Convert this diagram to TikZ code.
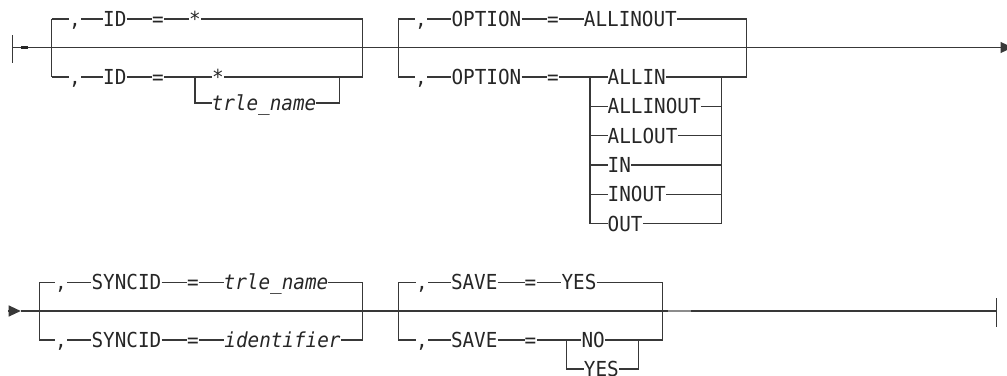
\documentclass[tikz,border=0pt]{standalone}
\usepackage{fontspec}
\newfontfamily\rrfont{DejaVu Sans Mono}
\usetikzlibrary{arrows.meta}
\newcommand{\rt}[1]{\scalebox{1}[1.07]{#1}}
\tikzset{
  rr/.style={draw=black!78, line width=1.2pt},
  tok/.style={inner sep=0pt, text height=17pt, text depth=2pt, anchor=west,
    font=\rrfont\fontsize{19.3pt}{20pt}\selectfont, text=black!85},
  var/.style={tok, font=\rrfont\itshape\fontsize{19.3pt}{20pt}\selectfont},
  smear/.style={draw=black!85, line width=2.6pt},
  smearlight/.style={draw=black!45, line width=2.4pt},
}
\begin{document}
\begin{tikzpicture}[x=1pt,y=-1pt]
\useasboundingbox (0,0) rectangle (1007,375);
% ================= ROW 1 =================
\coordinate (sbT) at (12.5,35);
\coordinate (sbB) at (12.5,63);
\coordinate (s1) at (12.5,47.5);
\coordinate (e1) at (1012.5,47.5);
\coordinate (m1a) at (21,47.5);
\coordinate (m1b) at (28,47.5);
\draw[rr] (sbT) -- (sbB);
\draw[rr, -{Triangle[length=12pt,width=11pt]}] (s1) -- (e1);
\draw[smear] (m1a) -- (m1b);
% ---- box A ----
\coordinate (aTL) at (51.7,19);
\coordinate (aBL) at (51.7,77);
\coordinate (aTR) at (362.7,19);
\coordinate (aBR) at (362.7,77);
\coordinate (aiL) at (195,77);
\coordinate (aiLB) at (195,103);
\coordinate (aiR) at (339.3,77);
\coordinate (aiRB) at (339.3,103);
\node[tok] (cA1) at (69,19) {\rt{,}};
\node[tok] (idA1) at (103,19) {\rt{ID}};
\node[tok] (eqA1) at (151.8,19) {\rt{=}};
\node[tok] (stA1) at (189,19) {\rt{*}};
\node[tok] (cA2) at (69,77) {\rt{,}};
\node[tok] (idA2) at (103,77) {\rt{ID}};
\node[tok] (eqA2) at (151.8,77) {\rt{=}};
\node[tok] (stA2) at (212,77) {\rt{*}};
\node[var] (trA2) at (211.5,103) {\rt{trle\_name}};
\draw[rr] (aTL) -- (aBL) (aTR) -- (aBR);
\draw[rr] (aTL) -- (cA1.west) (cA1.east) -- (idA1.west) (idA1.east) -- (eqA1.west)
  (eqA1.east) -- (stA1.west) (stA1.east) -- (aTR);
\draw[rr] (aBL) -- (cA2.west) (cA2.east) -- (idA2.west) (idA2.east) -- (eqA2.west)
  (eqA2.east) -- (aiL) -- (stA2.west) (stA2.east) -- (aiR) -- (aBR);
\draw[rr] (aiL) -- (aiLB) -- (trA2.west) (trA2.east) -- (aiRB) -- (aiR);
% ---- box B ----
\coordinate (bTL) at (398.3,19);
\coordinate (bBL) at (398.3,77);
\coordinate (bTR) at (746.7,19);
\coordinate (bBR) at (746.7,77);
\coordinate (biL) at (590,77);
\coordinate (biLB) at (590,223.5);
\coordinate (biR) at (721.7,77);
\coordinate (biRB) at (721.7,223.5);
\node[tok] (cB1) at (415,19) {\rt{,}};
\node[tok] (opB1) at (451.4,19) {\rt{OPTION}};
\node[tok] (eqB1) at (546.8,19) {\rt{=}};
\node[tok] (alB1) at (583.7,19) {\rt{ALLINOUT}};
\node[tok] (cB2) at (415,77) {\rt{,}};
\node[tok] (opB2) at (451.4,77) {\rt{OPTION}};
\node[tok] (eqB2) at (546.8,77) {\rt{=}};
\node[tok] (o1) at (607.5,77) {\rt{ALLIN}};
\node[tok] (o2) at (607.5,106.3) {\rt{ALLINOUT}};
\node[tok] (o3) at (607.5,135.6) {\rt{ALLOUT}};
\node[tok] (o4) at (607.5,164.9) {\rt{IN}};
\node[tok] (o5) at (607.5,194.2) {\rt{INOUT}};
\node[tok] (o6) at (607.5,223.5) {\rt{OUT}};
\draw[rr] (bTL) -- (bBL) (bTR) -- (bBR);
\draw[rr] (bTL) -- (cB1.west) (cB1.east) -- (opB1.west) (opB1.east) -- (eqB1.west)
  (eqB1.east) -- (alB1.west) (alB1.east) -- (bTR);
\draw[rr] (bBL) -- (cB2.west) (cB2.east) -- (opB2.west) (opB2.east) -- (eqB2.west)
  (eqB2.east) -- (biL) -- (o1.west) (o1.east) -- (biR) -- (bBR);
\draw[rr] (biL) -- (biLB) (biR) -- (biRB);
\foreach \n in {o2,o3,o4,o5,o6}{
  \draw[rr] (biL |- \n.west) -- (\n.west) (\n.east) -- (biR |- \n.east);
}
% ================= ROW 2 =================
\coordinate (s2a) at (8.3,311);
\coordinate (s2) at (20.7,311);
\coordinate (ebT) at (996.7,298);
\coordinate (ebB) at (996.7,326.5);
\coordinate (e2) at (996.7,311);
\coordinate (m2a) at (668,311);
\coordinate (m2b) at (691,311);
\draw[rr, -{Triangle[length=12pt,width=11pt]}] (s2a) -- (s2);
\draw[rr] (s2) -- (e2);
\draw[rr] (ebT) -- (ebB);
\draw[smearlight] (m2a) -- (m2b);
% ---- box C ----
\coordinate (cTL) at (39.3,282.3);
\coordinate (cBL) at (39.3,340);
\coordinate (cTR) at (362.7,282.3);
\coordinate (cBR) at (362.7,340);
\node[tok] (cC1) at (55,282.3) {\rt{,}};
\node[tok] (syC1) at (91.4,282.3) {\rt{SYNCID}};
\node[tok] (eqC1) at (186.8,282.3) {\rt{=}};
\node[var] (trC1) at (223.5,282.3) {\rt{trle\_name}};
\node[tok] (cC2) at (55,340) {\rt{,}};
\node[tok] (syC2) at (91.4,340) {\rt{SYNCID}};
\node[tok] (eqC2) at (186.8,340) {\rt{=}};
\node[var] (idC2) at (224.2,340) {\rt{identifier}};
\draw[rr] (cTL) -- (cBL) (cTR) -- (cBR);
\draw[rr] (cTL) -- (cC1.west) (cC1.east) -- (syC1.west) (syC1.east) -- (eqC1.west)
  (eqC1.east) -- (trC1.west) (trC1.east) -- (cTR);
\draw[rr] (cBL) -- (cC2.west) (cC2.east) -- (syC2.west) (syC2.east) -- (eqC2.west)
  (eqC2.east) -- (idC2.west) (idC2.east) -- (cBR);
% ---- box D ----
\coordinate (dTL) at (398.3,282.3);
\coordinate (dBL) at (398.3,340);
\coordinate (dTR) at (662.7,282.3);
\coordinate (dBR) at (662.7,340);
\coordinate (diL) at (566.7,340);
\coordinate (diLB) at (566.7,369);
\coordinate (diR) at (638.3,340);
\coordinate (diRB) at (638.3,369);
\node[tok] (cD1) at (416,282.3) {\rt{,}};
\node[tok] (svD1) at (450.8,282.3) {\rt{SAVE}};
\node[tok] (eqD1) at (524.5,282.3) {\rt{=}};
\node[tok] (ysD1) at (561.4,282.3) {\rt{YES}};
\node[tok] (cD2) at (416,340) {\rt{,}};
\node[tok] (svD2) at (450.8,340) {\rt{SAVE}};
\node[tok] (eqD2) at (524.5,340) {\rt{=}};
\node[tok] (noD2) at (581.4,340) {\rt{NO}};
\node[tok] (ysD2) at (583.7,369) {\rt{YES}};
\draw[rr] (dTL) -- (dBL) (dTR) -- (dBR);
\draw[rr] (dTL) -- (cD1.west) (cD1.east) -- (svD1.west) (svD1.east) -- (eqD1.west)
  (eqD1.east) -- (ysD1.west) (ysD1.east) -- (dTR);
\draw[rr] (dBL) -- (cD2.west) (cD2.east) -- (svD2.west) (svD2.east) -- (eqD2.west)
  (eqD2.east) -- (diL) -- (noD2.west) (noD2.east) -- (diR) -- (dBR);
\draw[rr] (diL) -- (diLB) -- (ysD2.west) (ysD2.east) -- (diRB) -- (diR);
\end{tikzpicture}
\end{document}
